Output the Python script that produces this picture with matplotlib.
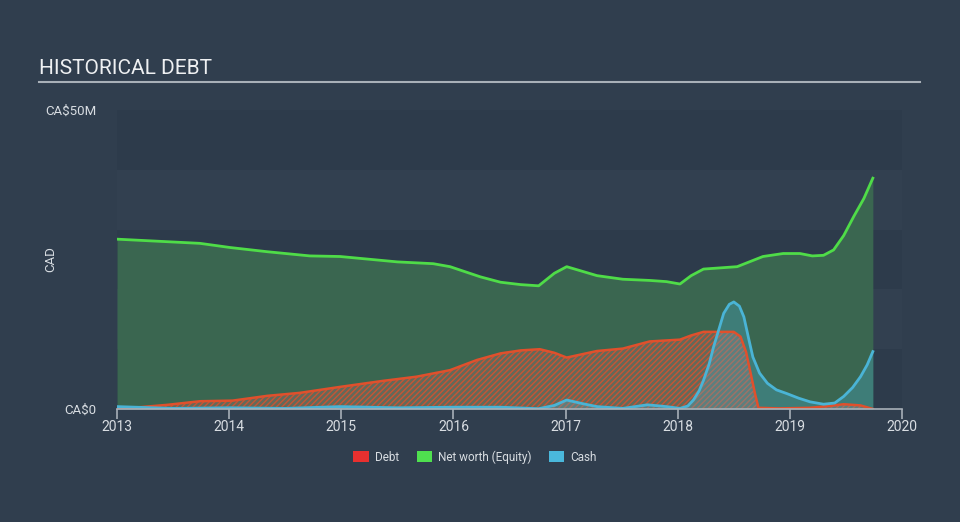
import matplotlib
matplotlib.use("Agg")
import matplotlib.pyplot as plt
from matplotlib.patches import Patch

plt.rcParams['font.family'] = ['Roboto', 'DejaVu Sans']
plt.rcParams['hatch.linewidth'] = 1.0

# ---- data (millions CAD) ----
equity_x = [2013.0, 2013.74, 2014.01, 2014.34, 2014.72, 2014.99, 2015.5, 2015.82, 2015.97,
            2016.24, 2016.42, 2016.6, 2016.76, 2016.9, 2017.01, 2017.1, 2017.28, 2017.51, 2017.75,
            2017.9, 2018.02, 2018.12, 2018.23, 2018.53, 2018.76, 2018.94, 2019.09, 2019.2,
            2019.3, 2019.39, 2019.48, 2019.57, 2019.66, 2019.74]
equity_y = [28.4, 27.7, 27.0, 26.3, 25.6, 25.5, 24.6, 24.3, 23.8,
            22.1, 21.2, 20.8, 20.6, 22.7, 23.8, 23.3, 22.3, 21.7, 21.5,
            21.3, 20.9, 22.3, 23.4, 23.8, 25.5, 26.0, 26.0, 25.6,
            25.7, 26.6, 29.0, 32.2, 35.2, 38.6]

debt_x = [2013.0, 2013.2, 2013.45, 2013.74, 2014.03, 2014.34, 2014.63, 2014.99, 2015.37, 2015.67,
          2015.97, 2016.21, 2016.42, 2016.6, 2016.77, 2016.9, 2017.01, 2017.28, 2017.51, 2017.75,
          2018.02, 2018.12, 2018.23, 2018.5, 2018.56, 2018.61, 2018.65, 2018.69, 2018.72,
          2018.9, 2019.18, 2019.35, 2019.48, 2019.63, 2019.74]
debt_y = [0.1, 0.3, 0.7, 1.3, 1.4, 2.2, 2.7, 3.7, 4.7, 5.4,
          6.5, 8.2, 9.3, 9.8, 10.0, 9.4, 8.6, 9.7, 10.1, 11.3,
          11.6, 12.3, 12.9, 12.9, 12.1, 9.5, 6.0, 2.5, 0.2,
          0.1, 0.2, 0.5, 0.8, 0.6, 0.0]

cash_x = [2013.0, 2013.5, 2014.0, 2014.5, 2014.99, 2015.5, 2016.0, 2016.42, 2016.76, 2016.9,
          2017.01, 2017.15, 2017.28, 2017.51, 2017.73, 2017.9, 2018.02, 2018.09, 2018.14,
          2018.19, 2018.23, 2018.28, 2018.32, 2018.37, 2018.41, 2018.46, 2018.5, 2018.55,
          2018.59, 2018.63, 2018.67, 2018.73, 2018.8, 2018.88, 2018.97, 2019.08, 2019.18,
          2019.3, 2019.4, 2019.48, 2019.56, 2019.63, 2019.69, 2019.74]
cash_y = [0.4, 0.1, 0.2, 0.1, 0.4, 0.2, 0.3, 0.3, 0.05, 0.6,
          1.5, 0.9, 0.4, 0.1, 0.7, 0.4, 0.1, 0.5, 1.5,
          3.0, 4.8, 7.5, 10.4, 13.5, 16.0, 17.5, 17.9, 17.2,
          15.4, 12.0, 8.7, 6.0, 4.3, 3.2, 2.6, 1.8, 1.2,
          0.8, 1.0, 2.1, 3.6, 5.4, 7.4, 9.6]

x_ticks = [2013, 2014, 2015, 2016, 2017, 2018, 2019, 2020]
y_ticks = [0, 50]
y_tick_labels = ["CA$0", "CA$50M"]
legend_labels = ["Debt", "Net worth (Equity)", "Cash"]

# ---- style ----
BG = "#303e4e"
GREEN_LINE = "#4fdc48"
GREEN_FILL = "#3a6650"
DEBT_LINE = "#e0502c"
CASH_LINE = "#4ab4d6"
TEXT = "#d8dde2"

fig = plt.figure(figsize=(9.6, 5.22), dpi=100, facecolor=BG)
ax = fig.add_axes([117/960, 1-409/522, (902-117)/960, (409-110)/522])
ax.set_facecolor(BG)
ax.set_xlim(2013, 2020)
ax.set_ylim(0, 50)

# alternating bands
for i, lo in enumerate(range(0, 50, 10)):
    col = "#2d3b4b" if i % 2 == 0 else "#324050"
    ax.axhspan(lo, lo + 10, color=col, lw=0, zorder=0)

# equity
ax.fill_between(equity_x, equity_y, 0, color=GREEN_FILL, lw=0, zorder=1)
# debt hatched
ax.fill_between(debt_x, debt_y, 0, facecolor="#6f6a5c", edgecolor=DEBT_LINE,
                hatch="//////", lw=0, zorder=2, alpha=0.8)
# cash
ax.fill_between(cash_x, cash_y, 0, color="#4ab4d6", alpha=0.3, lw=0, zorder=3)

ax.plot(equity_x, equity_y, color=GREEN_LINE, lw=2, zorder=5, solid_joinstyle="round")
ax.plot(debt_x, debt_y, color=DEBT_LINE, lw=1.8, zorder=5, solid_joinstyle="round")
ax.plot(cash_x, cash_y, color=CASH_LINE, lw=2, zorder=6, solid_joinstyle="round")

# axes styling
for s in ["top", "right", "left"]:
    ax.spines[s].set_visible(False)
ax.spines["bottom"].set_color("#a8b0b8")
ax.spines["bottom"].set_linewidth(1.2)
ax.spines["bottom"].set_zorder(7)
ax.set_xticks(x_ticks)
ax.set_xticklabels([str(t) for t in x_ticks])
ax.tick_params(axis="x", colors="#a8b0b8", labelcolor=TEXT, labelsize=10, length=7,
               width=1.2, direction="out", pad=1)
ax.set_yticks(y_ticks)
ax.set_yticklabels(y_tick_labels)
ax.tick_params(axis="y", length=0, labelcolor=TEXT, labelsize=9.5, pad=15)
ax.set_ylabel("CAD", color=TEXT, fontsize=9.5)
ax.yaxis.set_label_coords((57 - 117) / 785, 0.5)

# title and underline
fig.text(39/960, 1-69/522, "HISTORICAL DEBT", color="#eef0f2", fontsize=15,
         va="center", ha="left")
fig.add_artist(plt.Line2D([39/960, 920/960], [1-82/522, 1-82/522],
                          color="#a8b0b8", lw=1.5))

# legend
handles = [Patch(facecolor="#e8302f", edgecolor="none"),
           Patch(facecolor="#4fe04f", edgecolor="none"),
           Patch(facecolor="#4ab8dc", edgecolor="none")]
leg = fig.legend(handles, legend_labels, loc="center", bbox_to_anchor=(475/960, 1-457/522),
                 ncol=3, frameon=False, fontsize=8.5, labelcolor=TEXT,
                 handlelength=1.3, handleheight=1.1, handletextpad=0.5, columnspacing=1.5)

fig.savefig("out.png", dpi=100, facecolor=BG)
